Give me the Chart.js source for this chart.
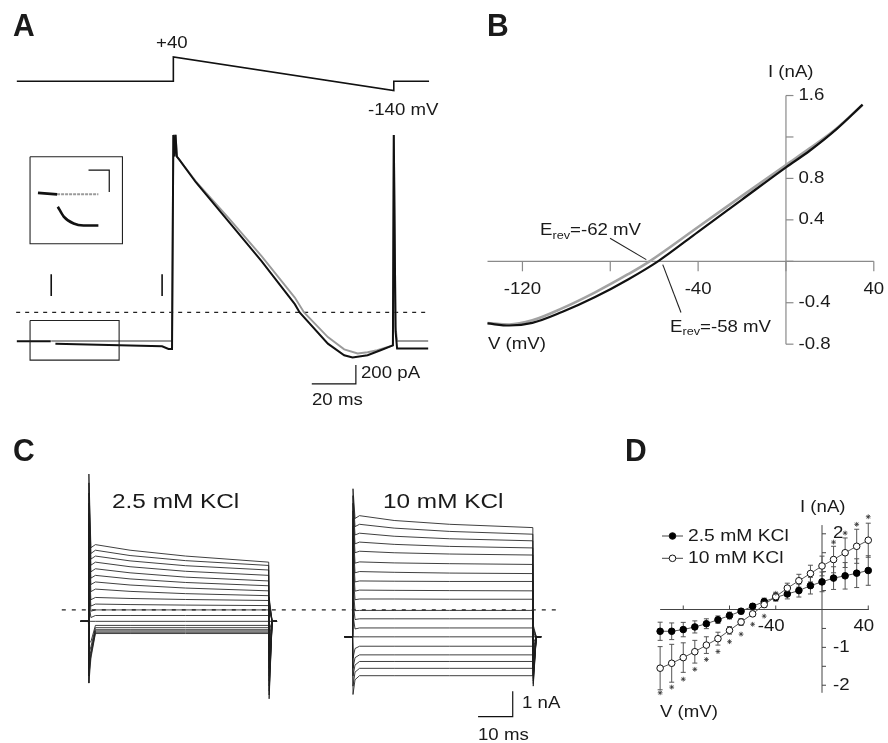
<!DOCTYPE html>
<html><head><meta charset="utf-8">
<script src="https://cdn.jsdelivr.net/npm/chart.js@4.4.0/dist/chart.umd.min.js"></script>
<style>
html,body{margin:0;padding:0;background:#fff;}
#wrap{position:relative;width:888px;height:743px;overflow:hidden;background:#fff;}
#c{position:absolute;left:0;top:0;width:888px;height:743px;}
.t{position:absolute;white-space:nowrap;font-family:"Liberation Sans",Arial,Helvetica,sans-serif;color:#1a1a1a;line-height:1;transform-origin:0 0;}
.sub{font-size:0.68em;position:relative;top:0.32em;}
</style></head><body>
<div id="wrap"><canvas id="c" width="888" height="743"></canvas></div>
<script>
// ---------------- DATA ----------------
// Panel A: voltage protocol (ms, mV)
const protoT = [-71, 0, 0, 100, 100, 116];
const protoV = [-90, -90, 40, -140, -90, -90];
// Panel A: current traces (ms, pA)
const blackT = [-71, -55.6, -54.5, -53.5, -5.1, -2.2, -0.6, 0, 0.5, 1.0, 1.6, 2.7, 10.2, 25.2, 40.1, 55.1, 57.3, 70.1, 77.5, 81.3, 88.1, 94.0, 99.6, 100.0, 100.8, 101.5, 115.6];
const blackI = [-308, -308, null, -333, -361, -390, -390, 1890, 1660, 1890, 1660, 1626, 1386, 965, 544, 88, 0, -333, -456, -480, -456, -403, -351, 1890, -200, -385, -385];
const grayT = [-55.4, -1.8, -0.6, 0, 0.5, 1.0, 1.6, 2.7, 10.2, 25.2, 40.1, 55.1, 59.3, 70.1, 77.5, 83.6, 88.1, 92.5, 99.6, 100.0, 100.8, 101.5, 115.6];
const grayI = [-305, -305, -305, 1890, 1660, 1890, 1660, 1626, 1395, 1000, 597, 158, 0, -263, -393, -438, -424, -403, -351, 1890, -150, -305, -305];
// Panel A inset (magnified baseline)
const insetFlatT = [0, 19], insetFlatI = [-302, -305];
const insetGrayT = [19, 60], insetGrayI = [-305, -305];
const insetCurveT = [19.7, 25.6, 35.4, 45.2, 60], insetCurveI = [-330, -350, -364, -368, -368];

// Panel B: I-V from ramp (mV, nA)
const bBlackV = [-135.9, -126, -115.5, -102, -86.9, -71.9, -58.3, -40, -20, 0, 10.8, 22.9, 34.9];
const bBlackI = [-0.60, -0.62, -0.595, -0.49, -0.345, -0.175, 0, 0.285, 0.596, 0.907, 1.067, 1.273, 1.512];
const bGrayV = [-135.9, -126, -115.5, -102, -86.9, -71.9, -62.1, -40, -20, 0, 10.8, 22.9, 34.9];
const bGrayI = [-0.595, -0.61, -0.57, -0.455, -0.30, -0.125, 0, 0.331, 0.631, 0.93, 1.09, 1.28, 1.51];
const bXTicks = [-120, -80, -40, 0, 40], bXLabels = [-120, -40, 40];
const bYTicks = [-0.8, -0.4, 0, 0.4, 0.8, 1.2, 1.6], bYLabels = [-0.8, -0.4, 0.4, 0.8, 1.6];

// Panel C: step currents (ms, nA), traces from most negative to most positive
const cEdgeT = [-2.3, 0, 0.12, 0.7, 52.12, 53.0, 54.4];
const cTimes = [2, 12, 28, 52];
const c25Hold = -0.45;
const c25On = [-2.88, -2.6, -2.3, -2.0, -1.7, -1.3, -0.45, 0.3, 1.0, 1.5, 2.0, 2.5, 3.0, 3.4, 3.8, 4.2, 4.6, 5.0, 5.35];
const c25Early = [-1.9, -1.8, -1.7, -1.6, -1.45, -1.25, -0.45, -0.3, -0.05, 0.15, 0.4, 0.72, 1.0, 1.25, 1.5, 1.76, 2.0, 2.22, 2.45];
const c25At2 = [-0.93, -0.88, -0.83, -0.78, -0.70, -0.61, -0.45, -0.22, 0.00, 0.23, 0.49, 0.82, 1.10, 1.36, 1.62, 1.88, 2.12, 2.35, 2.57];
const c25At12 = [-0.93, -0.88, -0.83, -0.78, -0.70, -0.61, -0.45, -0.22, 0.00, 0.21, 0.45, 0.73, 0.98, 1.22, 1.46, 1.70, 1.93, 2.14, 2.35];
const c25At28 = [-0.93, -0.88, -0.83, -0.78, -0.70, -0.61, -0.45, -0.22, 0.00, 0.19, 0.41, 0.64, 0.86, 1.08, 1.29, 1.52, 1.74, 1.94, 2.12];
const c25At52 = [-0.93, -0.88, -0.83, -0.78, -0.70, -0.61, -0.45, -0.22, 0.00, 0.17, 0.37, 0.56, 0.75, 0.95, 1.14, 1.36, 1.57, 1.75, 1.88];
const c25Off = [0.5, 0.4, 0.3, 0.2, 0.1, 0.0, -0.45, -0.8, -1.1, -1.4, -1.7, -2.0, -2.3, -2.6, -2.8, -3.0, -3.2, -3.35, -3.5];
const c10Hold = -1.06;
const c10On = [-3.33, -3.0, -2.6, -2.3, -1.9, -1.06, -0.2, 0.4, 1.0, 1.5, 2.0, 2.5, 2.9, 3.3, 3.6, 3.9, 4.2, 4.5, 4.77];
const c10Early = [-2.75, -2.45, -2.17, -1.88, -1.52, -1.06, -0.75, -0.38, -0.03, 0.4, 0.74, 1.1, 1.46, 1.84, 2.25, 2.6, 2.95, 3.28, 3.6];
const c10At2 = [-2.59, -2.30, -2.03, -1.77, -1.43, -1.06, -0.71, -0.35, -0.02, 0.43, 0.78, 1.14, 1.51, 1.89, 2.31, 2.67, 3.02, 3.37, 3.71];
const c10At12 = [-2.59, -2.30, -2.03, -1.77, -1.43, -1.06, -0.71, -0.35, -0.02, 0.43, 0.77, 1.13, 1.48, 1.85, 2.25, 2.58, 2.90, 3.22, 3.52];
const c10At28 = [-2.59, -2.30, -2.03, -1.77, -1.43, -1.06, -0.71, -0.35, -0.02, 0.42, 0.76, 1.12, 1.45, 1.82, 2.20, 2.50, 2.80, 3.09, 3.37];
const c10At52 = [-2.59, -2.30, -2.03, -1.77, -1.43, -1.06, -0.71, -0.35, -0.02, 0.42, 0.75, 1.12, 1.43, 1.79, 2.16, 2.44, 2.72, 2.98, 3.24];
const c10Off = [-0.6, -0.7, -0.8, -0.9, -1.0, -1.06, -1.3, -1.5, -1.7, -1.9, -2.1, -2.3, -2.4, -2.5, -2.6, -2.7, -2.8, -2.9, -3.0];

// Panel D: mean I-V (mV, nA)
const dV = [-140, -130, -120, -110, -100, -90, -80, -70, -60, -50, -40, -30, -20, -10, 0, 10, 20, 30, 40];
const d25 = [-0.575, -0.575, -0.53, -0.46, -0.375, -0.27, -0.16, -0.045, 0.085, 0.21, 0.32, 0.41, 0.50, 0.63, 0.73, 0.83, 0.89, 0.96, 1.03];
const d25Err = [0.24, 0.22, 0.19, 0.16, 0.13, 0.10, 0.09, 0.07, 0.07, 0.09, 0.10, 0.13, 0.17, 0.22, 0.26, 0.30, 0.35, 0.38, 0.39];
const d10 = [-1.55, -1.42, -1.27, -1.115, -0.94, -0.77, -0.55, -0.33, -0.115, 0.13, 0.34, 0.565, 0.76, 0.95, 1.15, 1.32, 1.50, 1.67, 1.83];
const d10Err = [0.57, 0.50, 0.39, 0.30, 0.22, 0.17, 0.10, 0.09, 0.07, 0.07, 0.10, 0.13, 0.17, 0.22, 0.26, 0.35, 0.39, 0.45, 0.45];
const starV = [-140, -130, -120, -110, -100, -90, -80, -70, -60, -50, -40, 10, 20, 30, 40];
const starI = [-2.2, -2.05, -1.84, -1.58, -1.32, -1.11, -0.85, -0.65, -0.39, -0.175, 0.43, 1.78, 2.02, 2.25, 2.45];
const dXTicks = [-120, -80, -40, 40], dXLabels = [-40, 40];
const dYTicks = [-2, -1.5, -1, -0.5, 0.5, 1, 1.5, 2], dYLabels = [2, -1, -2];

// ---------------- LAYOUT ----------------
const W = 888, H = 743;
const FONT = '"Liberation Sans", Arial, Helvetica, sans-serif';
function xmap(p1, v1, p2, v2) { const k = (p2 - p1) / (v2 - v1); return { min: v1 - p1 / k, max: v1 + (W - p1) / k }; }
function ymap(p1, v1, p2, v2) { const k = (p1 - p2) / (v2 - v1); return { min: v1 - (H - p1) / k, max: v1 + p1 / k }; }
function sc(axis, m) { return Object.assign({ type: 'linear', axis: axis, position: axis === 'x' ? 'bottom' : 'left', display: false, bounds: 'data', grace: 0 }, m); }

const scales = {
  x: sc('x', { min: 0, max: 1 }), y: sc('y', { min: 0, max: 1 }),
  xA: sc('x', xmap(170.7, 0, 393.3, 100)),
  yA: sc('y', ymap(311.7, 0, 501.7, -2000)),
  yV: sc('y', ymap(53.3, 40, 87.3, -140)),
  xI: sc('x', xmap(34, 0, 95, 60)),
  yI: sc('y', ymap(192.3, -305, 242.3, -405)),
  xB: sc('x', xmap(789.3, 0, 878, 40)),
  yB: sc('y', ymap(260, 0, 92.3, 1.6)),
  xC: sc('x', xmap(85, 0, 120, 10)),
  xC2: sc('x', xmap(351.7, 0, 386.7, 10)),
  yC: sc('y', ymap(612.7, 0, 587, 1)),
  xD: sc('x', xmap(825.7, 0, 872.4, 40)),
  yD: sc('y', ymap(612.3, 0, 535.7, 2))
};

const datasets = [];
let ord = 0;
function zip(xs, ys) { return xs.map((x, i) => ({ x: x, y: ys[i] })); }
function line(pts, xid, yid, color, width, extra) {
  datasets.push(Object.assign({ data: pts, xAxisID: xid, yAxisID: yid, showLine: true, borderColor: color, backgroundColor: color,
    borderWidth: width, pointRadius: 0, pointHoverRadius: 0, fill: false, tension: 0, spanGaps: false, order: 1000 - (ord++) }, extra || {}));
}
function rect(x0, x1, y0, y1) { return [{ x: x0, y: y0 }, { x: x1, y: y0 }, { x: x1, y: y1 }, { x: x0, y: y1 }, { x: x0, y: y0 }]; }

// Panel A
line(zip(protoT, protoV), 'xA', 'yV', '#111', 1.6);
line([{ x: -71.3, y: 0 }, { x: 115.6, y: 0 }], 'xA', 'yA', '#222', 1.2, { borderDash: [4, 5] });
line(zip(grayT, grayI), 'xA', 'yA', '#9a9a9a', 1.9);
line(zip(blackT, blackI), 'xA', 'yA', '#111', 2.0);
line([{ x: -55.4, y: 175 }, { x: -55.4, y: 406 }], 'xA', 'yA', '#111', 1.6);
line([{ x: -5.1, y: 175 }, { x: -5.1, y: 406 }], 'xA', 'yA', '#111', 1.6);
line(rect(-65.0, -24.6, -87, -508), 'xA', 'yA', '#222', 1.1);
line([{ x: 62.8, y: -761 }, { x: 82.8, y: -761 }, { x: 82.8, y: -561 }], 'xA', 'yA', '#111', 1.2);
// inset
line(rect(-7.87, 83.9, -229, -405), 'xI', 'yI', '#222', 1.1);
line([{ x: 50.2, y: -256 }, { x: 70.8, y: -256 }, { x: 70.8, y: -300 }], 'xI', 'yI', '#111', 1.2);
line(zip(insetGrayT, insetGrayI), 'xI', 'yI', '#9a9a9a', 2.0, { borderDash: [3, 1] });
line(zip(insetFlatT, insetFlatI), 'xI', 'yI', '#111', 2.6);
line(zip(insetCurveT, insetCurveI), 'xI', 'yI', '#111', 2.6, { cubicInterpolationMode: 'monotone' });

// Panel B
line(zip(bGrayV, bGrayI), 'xB', 'yB', '#a3a3a3', 2.6, { cubicInterpolationMode: 'monotone' });
line(zip(bBlackV, bBlackI), 'xB', 'yB', '#111', 2.2, { cubicInterpolationMode: 'monotone' });
line([{ x: -80.1, y: 0.223 }, { x: -63.6, y: 0.016 }], 'xB', 'yB', '#222', 1.1);
line([{ x: -56.1, y: -0.032 }, { x: -47.8, y: -0.494 }], 'xB', 'yB', '#222', 1.1);

// Panel C
function cTrace(k, hold, on, early, a2, a12, a28, a52, off) {
  return [
    { x: cEdgeT[0], y: hold }, { x: cEdgeT[1], y: hold }, { x: cEdgeT[2], y: on[k] }, { x: cEdgeT[3], y: early[k] },
    { x: cTimes[0], y: a2[k] }, { x: cTimes[1], y: a12[k] }, { x: cTimes[2], y: a28[k] }, { x: cTimes[3], y: a52[k] },
    { x: cEdgeT[4], y: off[k] }, { x: cEdgeT[5], y: hold }, { x: cEdgeT[6], y: hold }
  ];
}
for (let k = 0; k < c25At2.length; k++) line(cTrace(k, c25Hold, c25On, c25Early, c25At2, c25At12, c25At28, c25At52, c25Off), 'xC', 'yC', '#1e1e1e', 0.85);
for (let k = 0; k < c10At2.length; k++) line(cTrace(k, c10Hold, c10On, c10Early, c10At2, c10At12, c10At28, c10At52, c10Off), 'xC2', 'yC', '#1e1e1e', 0.85);
line([{ x: -7.7, y: 0 }, { x: 134.9, y: 0 }], 'xC', 'yC', '#222', 1.2, { borderDash: [4, 6] });
line([{ x: 36.2, y: -4.2 }, { x: 46.2, y: -4.2 }, { x: 46.2, y: -3.2 }], 'xC2', 'yC', '#111', 1.2);

// Panel D
line(zip(dV, d25), 'xD', 'yD', '#555', 1, { pointRadius: 3.3, pointBackgroundColor: '#000', pointBorderColor: '#000', pointBorderWidth: 1 });
line(zip(dV, d10), 'xD', 'yD', '#555', 1, { pointRadius: 3.3, pointBackgroundColor: '#fff', pointBorderColor: '#111', pointBorderWidth: 1 });
line(zip(starV, starI), 'xD', 'yD', '#333', 0.8, { showLine: false, pointRadius: 2.4, pointStyle: 'star', pointBorderColor: '#333', pointBorderWidth: 0.8 });

// ---------------- AXES / DECOR PLUGIN ----------------
function stext(ctx, txt, x, y, size, align, base, sx) {
  ctx.save(); ctx.font = size + 'px ' + FONT; ctx.fillStyle = '#1a1a1a'; ctx.textAlign = align; ctx.textBaseline = base;
  ctx.translate(x, y); ctx.scale(sx, 1); ctx.fillText(txt, 0, 0); ctx.restore();
}
function seg(ctx, x1, y1, x2, y2) { ctx.beginPath(); ctx.moveTo(x1, y1); ctx.lineTo(x2, y2); ctx.stroke(); }
const decor = {
  id: 'decor',
  beforeDatasetsDraw(chart) {
    const ctx = chart.ctx, s = chart.scales;
    ctx.save();
    // Panel B axes
    const bx = v => s.xB.getPixelForValue(v), by = v => s.yB.getPixelForValue(v);
    ctx.strokeStyle = '#8a8a8a'; ctx.lineWidth = 1.2;
    seg(ctx, bx(-135.9), by(0), bx(40), by(0));
    seg(ctx, bx(0), by(-0.8), bx(0), by(1.6));
    bXTicks.forEach(v => seg(ctx, bx(v), by(0), bx(v), by(0) + 10));
    bYTicks.forEach(v => seg(ctx, bx(0), by(v), bx(0) + 7.5, by(v)));
    bXLabels.forEach(v => stext(ctx, String(v), bx(v), by(0) + 28, 16.5, 'center', 'middle', 1.13));
    bYLabels.forEach(v => stext(ctx, v.toFixed(1), bx(0) + 12.5, by(v), 16.5, 'left', 'middle', 1.13));
    // Panel D axes
    const dx = v => s.xD.getPixelForValue(v), dy = v => s.yD.getPixelForValue(v);
    ctx.strokeStyle = '#444'; ctx.lineWidth = 1;
    seg(ctx, dx(-140), dy(0), dx(40.5), dy(0));
    seg(ctx, dx(0), dy(-2.2), dx(0), dy(2.23));
    dXTicks.forEach(v => seg(ctx, dx(v), dy(0), dx(v), dy(0) - 4));
    dYTicks.forEach(v => seg(ctx, dx(0), dy(v), dx(0) + 4, dy(v)));
    dXLabels.forEach(v => stext(ctx, String(v), dx(v) - 4.5, dy(0) + 17, 16.5, 'center', 'middle', 1.13));
    dYLabels.forEach(v => stext(ctx, String(v), dx(0) + 11, dy(v), 16.5, 'left', 'middle', 1.13));
    // error bars
    ctx.strokeStyle = '#555'; ctx.lineWidth = 1;
    [[d25, d25Err], [d10, d10Err]].forEach(([m, e]) => {
      dV.forEach((v, i) => {
        const x = dx(v), y1 = dy(m[i] - e[i]), y2 = dy(m[i] + e[i]);
        seg(ctx, x, y1, x, y2); seg(ctx, x - 2.5, y1, x + 2.5, y1); seg(ctx, x - 2.5, y2, x + 2.5, y2);
      });
    });
    ctx.restore();
  },
  afterDatasetsDraw(chart) {
    const ctx = chart.ctx;
    ctx.save();
    // legend of panel D
    ctx.strokeStyle = '#444'; ctx.lineWidth = 1;
    [[536, '#000'], [558.3, '#fff']].forEach(([y, fill]) => {
      seg(ctx, 662, y, 683, y);
      ctx.beginPath(); ctx.arc(672.5, y, 3.3, 0, Math.PI * 2); ctx.fillStyle = fill; ctx.fill(); ctx.strokeStyle = '#111'; ctx.stroke(); ctx.strokeStyle = '#444';
    });
    ctx.restore();
  }
};

Chart.defaults.font.family = FONT;
new Chart(document.getElementById('c'), {
  type: 'scatter',
  data: { datasets: datasets },
  options: {
    responsive: false, animation: false, devicePixelRatio: 1, events: [],
    layout: { padding: 0 },
    plugins: { legend: { display: false }, tooltip: { enabled: false }, title: { display: false } },
    scales: scales
  },
  plugins: [decor]
});

// ---------------- TEXT ----------------
const wrap = document.getElementById('wrap');
function label(html, x, baseline, size, opt) {
  opt = opt || {};
  const d = document.createElement('div');
  d.className = 't';
  d.innerHTML = html;
  d.style.fontSize = size + 'px';
  d.style.left = x + 'px';
  d.style.top = (baseline - 0.8465 * size) + 'px';
  if (opt.bold) d.style.fontWeight = 'bold';
  const sx = opt.sx === undefined ? 1.13 : opt.sx;
  d.style.transform = 'scaleX(' + sx + ')';
  wrap.appendChild(d);
}
label('A', 12.7, 36, 31, { bold: true, sx: 0.97 });
label('B', 487, 36, 31, { bold: true, sx: 0.97 });
label('C', 12.7, 461.5, 31, { bold: true, sx: 0.97 });
label('D', 625, 461.5, 31, { bold: true, sx: 0.97 });
label('+40', 156, 48.3, 16.5);
label('-140 mV', 367.7, 115, 16.5);
label('200 pA', 361, 378.3, 16.5);
label('20 ms', 311.7, 405, 16.5);
label('I (nA)', 768.3, 76.5, 16.5);
label('V (mV)', 487.7, 349.3, 16.5);
label('E<span class="sub">rev</span>=-62 mV', 540, 235, 16.5);
label('E<span class="sub">rev</span>=-58 mV', 670, 331.7, 16.5);
label('2.5 mM KCl', 112, 507.3, 21, { sx: 1.16 });
label('10 mM KCl', 383.3, 507.3, 21, { sx: 1.16 });
label('1 nA', 521.7, 708.3, 16.5);
label('10 ms', 478.3, 740, 16.5);
label('2.5 mM KCl', 688.3, 541, 16.5, { sx: 1.17 });
label('10 mM KCl', 688.3, 563.3, 16.5, { sx: 1.17 });
label('I (nA)', 800, 511.7, 16.5);
label('V (mV)', 660, 716.7, 16.5);
</script>
</body></html>
